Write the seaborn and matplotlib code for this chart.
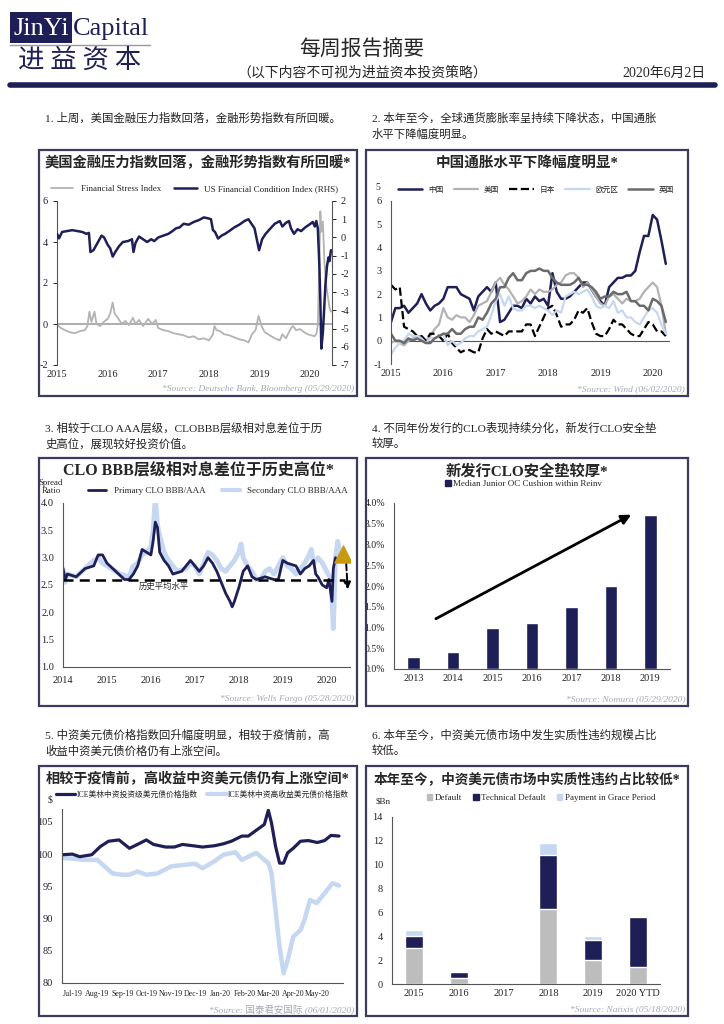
import numpy as np
import pandas as pd
import matplotlib
matplotlib.use('Agg')
import matplotlib.pyplot as plt
from matplotlib.patches import Rectangle, Patch
from matplotlib.lines import Line2D
from matplotlib.ticker import PercentFormatter, FormatStrFormatter
import matplotlib.dates as mdates
import seaborn as sns

sns.set_style('white')
plt.rcParams['font.family'] = ['Liberation Serif', 'Noto Sans CJK SC']
plt.rcParams['axes.unicode_minus'] = False

NAVY = '#1f1f57'
GRAY = '#b3b3b3'
LBLUE = '#c6d7f2'
DGRAY = '#6b6b6b'
BOX = '#3b3b5e'
SRC = '#a8a8b8'

# ---- 1. 金融压力指数 / 金融形势指数 ----
fsi_t = [2015.00, 2015.08, 2015.16, 2015.25, 2015.35, 2015.45, 2015.55, 2015.60, 2015.64, 2015.68,
         2015.74, 2015.78, 2015.85, 2015.92, 2016.00, 2016.05, 2016.10, 2016.14, 2016.20, 2016.28,
         2016.35, 2016.42, 2016.50, 2016.55, 2016.62, 2016.70, 2016.80, 2016.88, 2016.95, 2017.00,
         2017.10, 2017.20, 2017.30, 2017.40, 2017.50, 2017.60, 2017.70, 2017.80, 2017.90, 2018.00,
         2018.08, 2018.11, 2018.15, 2018.22, 2018.30, 2018.40, 2018.50, 2018.60, 2018.70, 2018.78,
         2018.85, 2018.92, 2018.98, 2019.04, 2019.10, 2019.20, 2019.30, 2019.40, 2019.45, 2019.52,
         2019.58, 2019.62, 2019.66, 2019.72, 2019.80, 2019.88, 2019.95, 2020.02, 2020.08, 2020.12,
         2020.15, 2020.18, 2020.20, 2020.22, 2020.25, 2020.28, 2020.31, 2020.35, 2020.38, 2020.41]
fsi_v = [-0.05, -0.2, -0.3, -0.4, -0.45, -0.35, -0.3, -0.1, 0.6, 0.1,
         0.6, 0.0, -0.1, 0.1, 0.25, 0.5, 1.05, 0.5, 0.3, 0.0,
         0.15, -0.05, 0.3, 0.0, 0.2, -0.1, 0.25, 0.0, 0.2, -0.2,
         -0.3, -0.35, -0.45, -0.5, -0.55, -0.65, -0.6, -0.75, -0.7, -0.8,
         -0.5, -0.1, -0.3, -0.35, -0.5, -0.55, -0.65, -0.75, -0.8, -0.9,
         -0.5, -0.3, 0.4, -0.1, -0.4, -0.55, -0.7, -0.8, -0.5, -0.7,
         -0.4, -0.2, -0.1, -0.3, -0.25, -0.4, -0.5, -0.55, -0.6, -0.5,
         -0.05, 3.0, 5.5, 4.5, 5.0, 3.0, 2.0, 1.3, 0.8, 0.6]
fci_t = [2015.00, 2015.04, 2015.10, 2015.20, 2015.30, 2015.40, 2015.50, 2015.58, 2015.63, 2015.66,
         2015.72, 2015.80, 2015.88, 2015.93, 2016.00, 2016.05, 2016.10, 2016.15, 2016.22, 2016.30,
         2016.40, 2016.48, 2016.51, 2016.55, 2016.62, 2016.70, 2016.78, 2016.86, 2016.92, 2017.00,
         2017.10, 2017.20, 2017.28, 2017.35, 2017.42, 2017.50, 2017.60, 2017.70, 2017.80, 2017.90,
         2017.98, 2018.04, 2018.08, 2018.12, 2018.18, 2018.25, 2018.32, 2018.40, 2018.50, 2018.60,
         2018.70, 2018.78, 2018.84, 2018.90, 2018.96, 2018.99, 2019.05, 2019.12, 2019.20, 2019.30,
         2019.40, 2019.45, 2019.52, 2019.58, 2019.62, 2019.68, 2019.75, 2019.82, 2019.90, 2019.98,
         2020.05, 2020.09, 2020.12, 2020.15, 2020.18, 2020.20, 2020.22, 2020.25, 2020.27, 2020.30,
         2020.33, 2020.36, 2020.38, 2020.41]
fci_v = [0.2, -0.05, 0.3, 0.35, 0.4, 0.35, 0.3, 0.2, 0.25, -0.8,
         -0.7, -0.3, 0.1, 0.0, -0.4, -0.6, -1.05, -0.8, -0.5, -0.25,
         -0.2, -0.1, -0.8, -0.3, 0.05, -0.1, -0.25, -0.1, -0.2, 0.0,
         0.1, 0.2, 0.35, 0.5, 0.55, 0.75, 0.7, 0.85, 0.95, 1.1,
         1.05, 1.0, 0.4, 0.3, -0.06, 0.1, 0.2, 0.35, 0.55, 0.7,
         0.9, 1.0, 0.75, 0.5, -0.3, -0.7, -0.1, 0.2, 0.45, 0.75,
         0.9, 0.6, 0.8, 0.9, 0.5, 0.2, 0.45, 0.35, 0.55, 0.7,
         0.85, 0.6, 0.9, 0.5, -1.5, -3.5, -6.1, -5.2, -4.2, -2.6,
         -1.6, -1.1, -1.3, -0.7]

# ---- 2. 各国通胀 (月度, 2015-01 ~ 2020-04) ----
cpi_cn = [0.8, 1.4, 1.4, 1.5, 1.2, 1.4, 1.6, 2.0, 1.6, 1.3, 1.5, 1.6,
          1.8, 2.3, 2.3, 2.3, 2.0, 1.9, 1.8, 1.3, 1.9, 2.1, 2.3, 2.1,
          2.5, 0.8, 0.9, 1.2, 1.5, 1.5, 1.4, 1.8, 1.6, 1.9, 1.7, 1.8,
          1.5, 2.9, 2.1, 1.8, 1.8, 1.9, 2.1, 2.3, 2.5, 2.5, 2.2, 1.9,
          1.7, 1.5, 2.3, 2.5, 2.7, 2.7, 2.8, 2.8, 3.0, 3.8, 4.5, 4.5,
          5.4, 5.2, 4.3, 3.3]
cpi_us = [-0.1, 0.0, -0.1, -0.2, 0.0, 0.1, 0.2, 0.2, 0.0, 0.2, 0.5, 0.7,
          1.4, 1.0, 0.9, 1.1, 1.0, 1.0, 0.8, 1.1, 1.5, 1.6, 1.7, 2.1,
          2.5, 2.7, 2.4, 2.2, 1.9, 1.6, 1.7, 1.9, 2.2, 2.0, 2.2, 2.1,
          2.1, 2.2, 2.4, 2.5, 2.8, 2.9, 2.9, 2.7, 2.3, 2.5, 2.2, 1.9,
          1.6, 1.5, 1.9, 2.0, 1.8, 1.6, 1.8, 1.7, 1.7, 1.8, 2.1, 2.3,
          2.5, 2.3, 1.5, 0.3]
cpi_jp = [2.4, 2.2, 2.3, 0.6, 0.5, 0.4, 0.2, 0.2, 0.0, 0.3, 0.3, 0.2,
          0.0, 0.3, -0.1, -0.3, -0.5, -0.4, -0.4, -0.5, -0.5, 0.1, 0.5, 0.3,
          0.4, 0.3, 0.2, 0.4, 0.4, 0.4, 0.4, 0.7, 0.7, 0.2, 0.6, 1.0,
          1.4, 1.5, 1.1, 0.6, 0.7, 0.7, 0.9, 1.3, 1.2, 1.4, 0.8, 0.3,
          0.2, 0.2, 0.5, 0.9, 0.7, 0.7, 0.5, 0.3, 0.2, 0.2, 0.5, 0.8,
          0.7, 0.4, 0.4, 0.2]
cpi_eu = [-0.6, -0.3, -0.1, 0.0, 0.3, 0.2, 0.2, 0.1, -0.1, 0.1, 0.1, 0.2,
          0.3, -0.2, 0.0, -0.2, -0.1, 0.1, 0.2, 0.2, 0.4, 0.5, 0.6, 1.1,
          1.7, 2.0, 1.5, 1.9, 1.4, 1.3, 1.3, 1.5, 1.5, 1.4, 1.5, 1.4,
          1.3, 1.1, 1.3, 1.2, 1.9, 2.0, 2.1, 2.0, 2.1, 2.2, 1.9, 1.5,
          1.4, 1.5, 1.4, 1.7, 1.2, 1.3, 1.0, 1.0, 0.8, 0.7, 1.0, 1.3,
          1.4, 1.2, 0.7, 0.3]
cpi_uk = [0.3, 0.0, 0.0, -0.1, 0.1, 0.0, 0.1, 0.0, -0.1, -0.1, 0.1, 0.2,
          0.3, 0.3, 0.5, 0.3, 0.3, 0.5, 0.6, 0.6, 1.0, 0.9, 1.2, 1.6,
          1.8, 2.3, 2.3, 2.7, 2.9, 2.6, 2.6, 2.9, 3.0, 3.0, 3.1, 3.0,
          3.0, 2.7, 2.5, 2.4, 2.4, 2.4, 2.5, 2.7, 2.4, 2.4, 2.3, 2.1,
          1.8, 1.9, 1.9, 2.1, 2.0, 2.0, 2.1, 1.7, 1.7, 1.5, 1.5, 1.3,
          1.8, 1.7, 1.5, 0.8]
cpi_t = [2015 + i / 12 for i in range(len(cpi_cn))]

# ---- 3. CLO BBB/AAA 息差比 ----
sec_t = [2014.00, 2014.05, 2014.10, 2014.30, 2014.50, 2014.70, 2014.80, 2014.90, 2015.00, 2015.20,
         2015.30, 2015.50, 2015.60, 2015.70, 2015.80, 2015.90, 2016.00, 2016.05, 2016.10, 2016.15,
         2016.20, 2016.30, 2016.40, 2016.50, 2016.60, 2016.80, 2016.90, 2017.00, 2017.10, 2017.20,
         2017.30, 2017.40, 2017.50, 2017.60, 2017.70, 2017.80, 2017.90, 2018.00, 2018.05, 2018.10,
         2018.20, 2018.30, 2018.40, 2018.50, 2018.60, 2018.70, 2018.80, 2018.90, 2019.00, 2019.10,
         2019.20, 2019.30, 2019.40, 2019.50, 2019.60, 2019.65, 2019.70, 2019.80, 2019.90, 2020.00,
         2020.10, 2020.15, 2020.20, 2020.25, 2020.30, 2020.35]
sec_v = [2.8, 2.55, 2.7, 2.65, 2.8, 2.95, 3.0, 2.9, 2.85, 2.75,
         2.7, 2.65, 2.85, 2.9, 3.05, 3.1, 3.2, 3.5, 4.1, 3.6,
         3.4, 3.1, 2.95, 2.85, 2.75, 2.8, 2.9, 2.85, 2.7, 2.9,
         3.1, 3.05, 2.95, 2.8, 2.75, 2.85, 2.95, 3.1, 3.25, 3.0,
         2.85, 2.75, 2.6, 2.6, 2.75, 2.8, 2.7, 2.85, 3.0, 2.85,
         2.8, 2.7, 2.8, 2.9, 3.05, 3.15, 2.9, 3.0, 2.9, 2.75,
         2.6, 1.7, 3.0, 3.3, 3.1, 3.0]
pri_t = [2014.00, 2014.05, 2014.10, 2014.30, 2014.50, 2014.70, 2014.80, 2014.90, 2015.00, 2015.20,
         2015.40, 2015.50, 2015.60, 2015.70, 2015.80, 2015.90, 2016.00, 2016.05, 2016.10, 2016.15,
         2016.20, 2016.30, 2016.40, 2016.50, 2016.70, 2016.80, 2016.90, 2017.00, 2017.10, 2017.20,
         2017.30, 2017.40, 2017.50, 2017.60, 2017.70, 2017.80, 2017.85, 2017.90, 2018.00, 2018.10,
         2018.20, 2018.30, 2018.40, 2018.60, 2018.80, 2018.90, 2019.00, 2019.10, 2019.30, 2019.40,
         2019.50, 2019.60, 2019.70, 2019.75, 2019.80, 2019.90, 2020.00, 2020.05, 2020.12, 2020.15,
         2020.20]
pri_v = [2.8, 2.6, 2.7, 2.65, 2.8, 2.85, 3.05, 3.05, 2.9, 2.75,
         2.6, 2.6, 2.7, 2.85, 3.15, 3.1, 3.05, 3.3, 3.65, 3.55,
         3.1, 2.95, 2.85, 2.7, 2.75, 2.85, 2.95, 2.85, 2.75, 2.85,
         3.0, 2.9, 2.75, 2.55, 2.35, 2.2, 2.1, 2.2, 2.45, 2.75,
         2.85, 2.65, 2.6, 2.65, 2.6, 2.6, 2.95, 2.9, 2.85, 2.7,
         2.8, 2.85, 2.95, 2.7, 2.65, 2.5, 2.45, 2.6, 2.2, 2.8,
         3.0]
HIST_AVG = 2.6
TRI_T, TRI_V = 2020.38, 3.07
ARROW_FROM = (2020.44, 2.95)
ARROW_TO = (2020.48, 2.37)

# ---- 4. Junior OC cushion ----
clo_years = ['2013', '2014', '2015', '2016', '2017', '2018', '2019']
cushion = [0.003, 0.004, 0.010, 0.011, 0.015, 0.020, 0.037]
TREND_FROM = (0.5, 0.0118)
TREND_TO = (5.58, 0.0375)

# ---- 5. ICE 中资美元债价格指数 ----
ice_dates = ['2019-06-18', '2019-07-01', '2019-07-10', '2019-07-25', '2019-08-05', '2019-08-15',
             '2019-08-28', '2019-09-10', '2019-09-20', '2019-10-01', '2019-10-10', '2019-10-25',
             '2019-11-05', '2019-11-15', '2019-11-28', '2019-12-10', '2019-12-25', '2020-01-05',
             '2020-01-15', '2020-01-28', '2020-02-05', '2020-02-15', '2020-02-25', '2020-03-01',
             '2020-03-05', '2020-03-10', '2020-03-15', '2020-03-20', '2020-03-25', '2020-04-01',
             '2020-04-10', '2020-04-20', '2020-05-01', '2020-05-10', '2020-05-18', '2020-05-28']
ice_ig = [99.9, 100.0, 99.6, 99.9, 101.2, 102.0,
          102.2, 100.9, 101.5, 102.2, 101.5, 101.1,
          101.1, 101.5, 101.3, 101.1, 101.3, 101.6,
          102.0, 102.8, 102.8, 103.7, 104.6, 106.8,
          104.8, 101.2, 98.6, 98.6, 100.2, 100.9,
          102.0, 102.1, 101.8, 102.1, 102.9, 102.8]
hy_dates = ['2019-06-18', '2019-07-01', '2019-07-15', '2019-08-01', '2019-08-10', '2019-08-20',
            '2019-09-01', '2019-09-10', '2019-09-20', '2019-10-01', '2019-10-15', '2019-11-01',
            '2019-11-15', '2019-12-01', '2019-12-10', '2019-12-25', '2020-01-05', '2020-01-20',
            '2020-01-28', '2020-02-05', '2020-02-15', '2020-02-25', '2020-03-01', '2020-03-05',
            '2020-03-10', '2020-03-15', '2020-03-20', '2020-03-25', '2020-04-01', '2020-04-10',
            '2020-04-15', '2020-04-22', '2020-04-30', '2020-05-10', '2020-05-20', '2020-05-28']
ice_hy = [99.4, 99.3, 99.1, 99.1, 98.1, 97.0,
          96.8, 96.8, 97.3, 96.8, 97.0, 98.1,
          98.3, 98.5, 97.8, 98.9, 99.9, 100.3,
          99.1, 99.6, 100.2, 99.1, 98.6, 97.0,
          91.3, 85.6, 81.5, 83.5, 87.2, 88.2,
          89.8, 92.9, 92.4, 93.9, 95.5, 95.1]

# ---- 6. 中资美元债违约 ($Bn) ----
dft_years = ['2015', '2016', '2017', '2018', '2019', '2020 YTD']
dft_default = [3.0, 0.5, 0.0, 6.3, 2.0, 1.4]
dft_technical = [1.0, 0.5, 0.0, 4.5, 1.7, 4.2]
dft_grace = [0.5, 0.0, 0.0, 1.0, 0.3, 0.0]

W, H = 724, 1024
fig = plt.figure(figsize=(W / 100, H / 100), dpi=100)
CJK = ['Noto Sans CJK SC', 'DejaVu Sans']


def add_ax(l, t, r, b):
    return fig.add_axes([l / W, 1 - b / H, (r - l) / W, (b - t) / H])


def ftext(x, y, s, **kw):
    fig.text(x / W, 1 - y / H, s, **kw)


def frame(l, t, r, b):
    fig.patches.append(Rectangle((l / W, 1 - b / H), (r - l) / W, (b - t) / H,
                                 transform=fig.transFigure, fill=False, ec=BOX, lw=1.6))


def tidy(ax):
    ax.set_xlabel('')
    ax.set_ylabel('')
    ax.tick_params(labelsize=7.5, colors='#222', length=3, width=0.7)
    for s in ax.spines.values():
        s.set_color('#555')
        s.set_linewidth(0.8)


# header
fig.patches.append(Rectangle((10 / W, 1 - 43 / H), 62 / W, 31 / H, transform=fig.transFigure,
                             fc=NAVY, ec='none'))
ftext(41, 29, 'JinYi', color='white', fontsize=19, ha='center', va='center')
ftext(73, 29, 'Capital', color=NAVY, fontsize=19, ha='left', va='center')
fig.add_artist(Line2D([10 / W, 150 / W], [1 - 44.5 / H] * 2, color='#999', lw=1))
ftext(80, 60, '进 益 资 本', color=NAVY, fontsize=19, ha='center', va='center', family=CJK)
ftext(362, 50, '每周报告摘要', fontsize=15, ha='center', va='center', family=CJK)
ftext(362, 73, '（以下内容不可视为进益资本投资策略）', fontsize=10, ha='center', va='center', family=CJK)
ftext(706, 73, '2020年6月2日', fontsize=10, ha='right', va='center')
fig.add_artist(Line2D([10 / W, 715 / W], [1 - 85 / H] * 2, color=NAVY, lw=4))

# section notes
NOTE = dict(fontsize=8.2, ha='left', va='center', color='#222')
ftext(45, 118, '1. 上周，美国金融压力指数回落，金融形势指数有所回暖。', **NOTE)
ftext(372, 118, '2. 本年至今，全球通货膨胀率呈持续下降状态，中国通胀', **NOTE)
ftext(372, 134, '水平下降幅度明显。', **NOTE)
ftext(45, 428, '3. 相较于CLO AAA层级，CLOBBB层级相对息差位于历', **NOTE)
ftext(45, 444, '史高位，展现较好投资价值。', **NOTE)
ftext(372, 428, '4. 不同年份发行的CLO表现持续分化，新发行CLO安全垫', **NOTE)
ftext(372, 444, '较厚。', **NOTE)
ftext(45, 735, '5. 中资美元债价格指数回升幅度明显，相较于疫情前，高', **NOTE)
ftext(45, 751, '收益中资美元债价格仍有上涨空间。', **NOTE)
ftext(372, 735, '6. 本年至今，中资美元债市场中发生实质性违约规模占比', **NOTE)
ftext(372, 751, '较低。', **NOTE)

boxes = [(39, 150, 357, 396), (366, 150, 688, 396), (39, 458, 357, 706),
         (366, 458, 688, 706), (39, 766, 357, 1016), (366, 766, 688, 1016)]
titles = ['美国金融压力指数回落，金融形势指数有所回暖*', '中国通胀水平下降幅度明显*',
          'CLO BBB层级相对息差位于历史高位*', '新发行CLO安全垫较厚*',
          '相较于疫情前，高收益中资美元债仍有上涨空间*', '本年至今，中资美元债市场中实质性违约占比较低*']
tsize = [10.3, 10.5, 11.5, 11, 10.2, 9.8]
sources = ['*Source: Deutsche Bank, Bloomberg (05/29/2020)', '*Source: Wind (06/02/2020)',
           '*Source: Wells Fargo (05/28/2020)', '*Source: Nomura (05/29/2020)',
           '*Source: 国泰君安国际 (06/01/2020)', '*Source: Natixis (05/18/2020)']
for (l, t, r, b), ttl, ts, src in zip(boxes, titles, tsize, sources):
    frame(l, t, r, b)
    ftext((l + r) / 2, t + 13, ttl, fontsize=ts, weight='bold', ha='center', va='center')
    ftext(r - 3, b - 7, src, fontsize=6.8, style='italic', color=SRC, ha='right', va='center')

# panel 1
ax1 = add_ax(57, 201, 332, 365)
ax1r = ax1.twinx()
sns.lineplot(x=fsi_t, y=fsi_v, ax=ax1, color=GRAY, lw=1.3, estimator=None, sort=False)
sns.lineplot(x=fci_t, y=fci_v, ax=ax1r, color=NAVY, lw=1.8, estimator=None, sort=False)
ax1.axhline(0, color='#a0a0a0', lw=1.2, zorder=0)
ax1.set_xlim(2015, 2020.43)
ax1.set_ylim(-2, 6)
ax1r.set_ylim(-7, 2)
ax1.set_xticks(range(2015, 2021))
ax1r.set_yticks(range(-7, 3))
for a in (ax1, ax1r):
    tidy(a)
    a.spines['top'].set_visible(False)
    a.spines['bottom'].set_visible(False)
ax1.spines['right'].set_visible(False)
ax1r.spines['left'].set_visible(False)
ax1.tick_params(axis='x', length=0)
ax1.legend([Line2D([], [], color=GRAY, lw=1.3), Line2D([], [], color=NAVY, lw=1.8)],
           ['Financial Stress Index', 'US Financial Condition Index (RHS)'],
           loc='lower center', bbox_to_anchor=(0.5, 1.0), ncol=2, frameon=False,
           fontsize=6.5, handlelength=2.5, columnspacing=1.5)

# panel 2
ax2 = add_ax(391, 201, 670, 364)
series2 = [(cpi_cn, '中国', NAVY, '-', 1.8), (cpi_us, '美国', GRAY, '-', 1.6),
           (cpi_jp, '日本', 'black', '--', 1.6), (cpi_eu, '欧元区', LBLUE, '-', 1.6),
           (cpi_uk, '英国', DGRAY, '-', 1.8)]
for vals, lab, col, ls, lw in series2:
    sns.lineplot(x=cpi_t, y=vals, ax=ax2, color=col, linestyle=ls, lw=lw, estimator=None, sort=False)
ax2.axhline(0, color='#555', lw=0.8, zorder=0)
ax2.set_xlim(2015, 2020.33)
ax2.set_ylim(-1, 6)
ax2.set_xticks(range(2015, 2021))
tidy(ax2)
ax2.spines['top'].set_visible(False)
ax2.spines['right'].set_visible(False)
ax2.spines['bottom'].set_visible(False)
ax2.tick_params(axis='x', length=0)
ax2.legend([Line2D([], [], color=c, ls=s, lw=w) for _, _, c, s, w in series2],
           [lab for _, lab, _, _, _ in series2], loc='lower center', bbox_to_anchor=(0.52, 1.0),
           ncol=5, frameon=False, prop={'family': CJK, 'size': 5.5}, handlelength=3.2,
           columnspacing=1.3)
ftext(378, 188, '5', fontsize=7, ha='center', va='center')

# panel 3
ax3 = add_ax(63, 503, 350, 667)
sns.lineplot(x=sec_t, y=sec_v, ax=ax3, color=LBLUE, lw=3.5, estimator=None, sort=False)
sns.lineplot(x=pri_t, y=pri_v, ax=ax3, color=NAVY, lw=2.0, estimator=None, sort=False)
ax3.plot([2014, 2020.42], [HIST_AVG, HIST_AVG], color='black', ls='--', lw=1.8, dashes=(4, 2.5))
ax3.text(2016.3, HIST_AVG - 0.13, '历史平均水平', fontsize=6, ha='center', va='center', family=CJK)
ax3.scatter([TRI_T], [TRI_V], marker='^', s=150, color='#c99a10', zorder=5)
ax3.annotate('', xy=ARROW_TO, xytext=ARROW_FROM,
             arrowprops=dict(arrowstyle='-|>', color='black', lw=1.4, ls='--'))
ax3.set_xlim(2014, 2020.53)
ax3.set_ylim(1.0, 4.0)
ax3.set_xticks(range(2014, 2021))
ax3.yaxis.set_major_formatter(FormatStrFormatter('%.1f'))
tidy(ax3)
ax3.spines['top'].set_visible(False)
ax3.spines['right'].set_visible(False)
ax3.legend([Line2D([], [], color=NAVY, lw=2), Line2D([], [], color=LBLUE, lw=3)],
           ['Primary CLO BBB/AAA', 'Secondary CLO BBB/AAA'], loc='lower center',
           bbox_to_anchor=(0.54, 1.0), ncol=2, frameon=False, fontsize=6.5,
           handlelength=2.0, columnspacing=1.8)
ftext(51, 487, 'Spread\nRatio', fontsize=6.3, ha='center', va='center', linespacing=0.9)

# panel 4
ax4 = add_ax(394, 503, 670, 669)
sns.barplot(x=clo_years, y=cushion, ax=ax4, color=NAVY, saturation=1, width=0.32, errorbar=None)
ax4.annotate('', xy=TREND_TO, xytext=TREND_FROM,
             arrowprops=dict(arrowstyle='-|>', color='black', lw=2, mutation_scale=14))
ax4.set_xlim(-0.5, 6.5)
ax4.set_ylim(0, 0.04)
ax4.set_yticks(np.arange(0, 0.0401, 0.005))
ax4.yaxis.set_major_formatter(PercentFormatter(1, decimals=1))
ax4.set_xticks(np.arange(-0.5, 6.6, 1), minor=True)
tidy(ax4)
ax4.tick_params(axis='y', labelsize=7)
ax4.tick_params(axis='x', which='major', length=0)
ax4.tick_params(axis='x', which='minor', length=3, width=0.7)
ax4.spines['top'].set_visible(False)
ax4.spines['right'].set_visible(False)
ax4.legend([Patch(color=NAVY)], ['Median Junior OC Cushion within Reinv'], loc='lower center',
           bbox_to_anchor=(0.47, 1.04), frameon=False, fontsize=6.5, handlelength=0.6,
           handleheight=0.6, handletextpad=0.3)

# panel 5
ax5 = add_ax(62, 809, 343, 983)
sns.lineplot(x=pd.to_datetime(hy_dates), y=ice_hy, ax=ax5, color=LBLUE, lw=3.2, estimator=None, sort=False)
sns.lineplot(x=pd.to_datetime(ice_dates), y=ice_ig, ax=ax5, color=NAVY, lw=2.3, estimator=None, sort=False)
ax5.set_xlim(pd.Timestamp('2019-06-18'), pd.Timestamp('2020-06-02'))
ax5.set_ylim(80, 107)
ax5.set_yticks(range(80, 106, 5))
ax5.set_xticks(pd.date_range('2019-07-01', '2020-05-01', freq='MS'))
ax5.xaxis.set_major_formatter(mdates.DateFormatter('%b-%y'))
tidy(ax5)
ax5.tick_params(axis='x', labelsize=5.7, pad=2)
ax5.spines['top'].set_visible(False)
ax5.spines['right'].set_visible(False)
ax5.legend([Line2D([], [], color=NAVY, lw=2.3), Line2D([], [], color=LBLUE, lw=3)],
           ['ICE美林中资投资级美元债价格指数', 'ICE美林中资高收益美元债价格指数'],
           loc='lower center', bbox_to_anchor=(0.5, 1.02), ncol=2, frameon=False,
           prop={'family': ['Liberation Serif', 'Noto Sans CJK SC'], 'size': 5.6},
           handlelength=2.5, columnspacing=1.2, handletextpad=0.2)
ftext(50, 800, '$', fontsize=7, ha='center', va='center')

# panel 6
ax6 = add_ax(392, 817, 660, 984)
dft_mid = [d + t for d, t in zip(dft_default, dft_technical)]
dft_total = [m + g for m, g in zip(dft_mid, dft_grace)]
sns.barplot(x=dft_years, y=dft_total, ax=ax6, color=LBLUE, saturation=1, width=0.41, errorbar=None)
sns.barplot(x=dft_years, y=dft_mid, ax=ax6, color=NAVY, saturation=1, width=0.41, errorbar=None)
sns.barplot(x=dft_years, y=dft_default, ax=ax6, color='#bdbdbd', saturation=1, width=0.41, errorbar=None)
ax6.set_xlim(-0.5, 5.5)
ax6.set_ylim(0, 14)
ax6.set_yticks(range(0, 15, 2))
ax6.set_xticks(np.arange(-0.5, 5.6, 1), minor=True)
tidy(ax6)
ax6.tick_params(axis='x', which='major', length=0)
ax6.tick_params(axis='x', which='minor', length=3, width=0.7)
ax6.spines['top'].set_visible(False)
ax6.spines['right'].set_visible(False)
ax6.legend([Patch(color='#bdbdbd'), Patch(color=NAVY), Patch(color=LBLUE)],
           ['Default', 'Technical Default', 'Payment in Grace Period'], loc='lower left',
           bbox_to_anchor=(0.1, 1.04), ncol=3, frameon=False, fontsize=6.5, handlelength=0.6,
           handleheight=0.6, handletextpad=0.3, columnspacing=1.2)
ftext(383, 801, '$Bn', fontsize=6.5, ha='center', va='center')

fig.savefig('out.png', dpi=100)
